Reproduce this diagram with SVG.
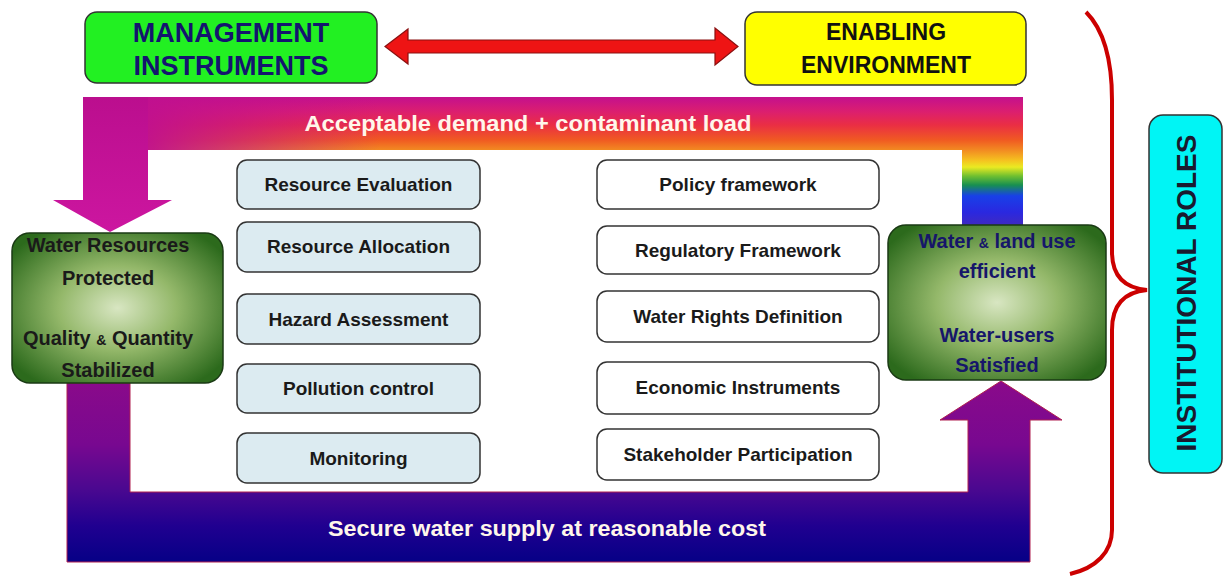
<svg xmlns="http://www.w3.org/2000/svg" width="1224" height="576" viewBox="0 0 1224 576">
  <defs>
    <style>
      .bx { stroke:#333; stroke-width:1.5; }
      .lb { fill:#dcebf1; }
      .rb { fill:#ffffff; }
      .t { font-family:"Liberation Sans", Arial, sans-serif; font-weight:bold; text-anchor:middle; }
      .bt { font-size:19px; fill:#1a1a1a; }
      .gt { font-size:20px; }
      .band { font-size:22px; fill:#fff6ea; }
    </style>
    <linearGradient id="topGrad" gradientUnits="userSpaceOnUse" x1="0" y1="97" x2="0" y2="232">
      <stop offset="0" stop-color="#c4108e"/>
      <stop offset="0.111" stop-color="#dc1f6e"/>
      <stop offset="0.207" stop-color="#ea2e44"/>
      <stop offset="0.319" stop-color="#f05a22"/>
      <stop offset="0.393" stop-color="#f28a22"/>
      <stop offset="0.467" stop-color="#f5c020"/>
      <stop offset="0.519" stop-color="#eaea22"/>
      <stop offset="0.585" stop-color="#70c030"/>
      <stop offset="0.652" stop-color="#189050"/>
      <stop offset="0.733" stop-color="#1840e8"/>
      <stop offset="0.852" stop-color="#2a28e0"/>
      <stop offset="1" stop-color="#4a2ab0"/>
    </linearGradient>
    <linearGradient id="leftFade" gradientUnits="userSpaceOnUse" x1="148" y1="0" x2="380" y2="0">
      <stop offset="0" stop-color="#c0108f" stop-opacity="0.95"/>
      <stop offset="1" stop-color="#c0108f" stop-opacity="0"/>
    </linearGradient>
    <linearGradient id="magGrad" gradientUnits="userSpaceOnUse" x1="0" y1="97" x2="0" y2="232">
      <stop offset="0" stop-color="#bb0e8e"/>
      <stop offset="1" stop-color="#cc16a0"/>
    </linearGradient>
    <linearGradient id="botGrad" gradientUnits="userSpaceOnUse" x1="0" y1="381" x2="0" y2="562">
      <stop offset="0" stop-color="#8a0a8a"/>
      <stop offset="0.35" stop-color="#780890"/>
      <stop offset="0.6" stop-color="#4a0890"/>
      <stop offset="0.8" stop-color="#200090"/>
      <stop offset="1" stop-color="#060086"/>
    </linearGradient>
    <radialGradient id="greenGrad" cx="0.5" cy="0.5" r="0.62">
      <stop offset="0" stop-color="#d8e6c2"/>
      <stop offset="0.45" stop-color="#94b86a"/>
      <stop offset="1" stop-color="#2c6a1c"/>
    </radialGradient>
  </defs>

  <g id="connectors">
    <!-- top band: acceptable demand -->
    <path d="M83,97 L1023,97 L1023,225 L962,225 L962,150 L148,150 L148,200 L83,200 Z" fill="url(#topGrad)"/>
    <rect x="148" y="97" width="232" height="53" fill="url(#leftFade)"/>
    <path d="M83,97 L148,97 L148,200 L172,200 L110,232 L53,200 L83,200 Z" fill="url(#magGrad)"/>
    <text class="t band" x="528" y="131" textLength="447" lengthAdjust="spacingAndGlyphs">Acceptable demand + contaminant load</text>

    <!-- bottom band: secure water supply -->
    <path d="M67,383 L130,383 L130,492 L968,492 L968,420 L940,420 L1001,381 L1062,420 L1030,420 L1030,562 L67,562 Z" fill="url(#botGrad)" stroke="#b02050" stroke-width="1"/>
    <text class="t band" x="547" y="536" textLength="438" lengthAdjust="spacingAndGlyphs">Secure water supply at reasonable cost</text>

    <!-- double arrow -->
    <path d="M385,46.5 L408,29 L408,40 L715,40 L715,28 L738,46.5 L715,65 L715,53 L408,53 L408,64 Z" fill="#ee1414" stroke="#8a1010" stroke-width="1.2"/>

    <!-- curly brace -->
    <path d="M1086,12 C1104,30 1112,60 1112,100 L1112,252 C1112,276 1124,288 1147,290 C1124,292 1112,305 1112,330 L1112,530 C1112,552 1096,568 1070,574" fill="none" stroke="#cc0000" stroke-width="4"/>
  </g>

  <g id="management">
    <rect x="85" y="12" width="292" height="71" rx="12" fill="#22f022" class="bx"/>
    <text class="t" x="231" y="42" font-size="27" fill="#14146e">MANAGEMENT</text>
    <text class="t" x="231" y="75" font-size="27" fill="#14146e">INSTRUMENTS</text>
  </g>

  <g id="enabling">
    <rect x="745" y="12" width="281" height="73" rx="12" fill="#ffff00" class="bx"/>
    <text class="t" x="886" y="40" font-size="23" fill="#111">ENABLING</text>
    <text class="t" x="886" y="73" font-size="23" fill="#111">ENVIRONMENT</text>
  </g>

  <g id="water-resources">
    <rect x="12" y="233" width="211" height="150" rx="18" fill="url(#greenGrad)" stroke="#1a3a14" stroke-width="1.5"/>
    <text class="t gt" x="108" y="252" fill="#1a1a1a">Water Resources</text>
    <text class="t gt" x="108" y="285" fill="#1a1a1a">Protected</text>
    <text class="t gt" x="108" y="345" fill="#1a1a1a">Quality <tspan font-size="14">&amp;</tspan> Quantity</text>
    <text class="t gt" x="108" y="377" fill="#1a1a1a">Stabilized</text>
  </g>

  <g id="water-users">
    <rect x="888" y="225" width="218" height="155" rx="18" fill="url(#greenGrad)" stroke="#1a3a14" stroke-width="1.5"/>
    <text class="t gt" x="997" y="248" fill="#16166a">Water <tspan font-size="14">&amp;</tspan> land use</text>
    <text class="t gt" x="997" y="278" fill="#16166a">efficient</text>
    <text class="t gt" x="997" y="342" fill="#16166a">Water-users</text>
    <text class="t gt" x="997" y="372" fill="#16166a">Satisfied</text>
  </g>

  <g id="resource-evaluation"><rect x="237" y="160" width="243" height="49" rx="10" class="bx lb"/><text class="t bt" x="358.5" y="191">Resource Evaluation</text></g>
  <g id="resource-allocation"><rect x="237" y="222" width="243" height="50" rx="10" class="bx lb"/><text class="t bt" x="358.5" y="253">Resource Allocation</text></g>
  <g id="hazard-assessment"><rect x="237" y="294" width="243" height="50" rx="10" class="bx lb"/><text class="t bt" x="358.5" y="326">Hazard  Assessment</text></g>
  <g id="pollution-control"><rect x="237" y="364" width="243" height="49" rx="10" class="bx lb"/><text class="t bt" x="358.5" y="395">Pollution control</text></g>
  <g id="monitoring"><rect x="237" y="433" width="243" height="50" rx="10" class="bx lb"/><text class="t bt" x="358.5" y="465">Monitoring</text></g>

  <g id="policy-framework"><rect x="597" y="160" width="282" height="49" rx="10" class="bx rb"/><text class="t bt" x="738" y="191">Policy framework</text></g>
  <g id="regulatory-framework"><rect x="597" y="226" width="282" height="48" rx="10" class="bx rb"/><text class="t bt" x="738" y="257">Regulatory Framework</text></g>
  <g id="water-rights"><rect x="597" y="291" width="282" height="51" rx="10" class="bx rb"/><text class="t bt" x="738" y="323">Water Rights Definition</text></g>
  <g id="economic-instruments"><rect x="597" y="362" width="282" height="52" rx="10" class="bx rb"/><text class="t bt" x="738" y="394">Economic Instruments</text></g>
  <g id="stakeholder-participation"><rect x="597" y="429" width="282" height="51" rx="10" class="bx rb"/><text class="t bt" x="738" y="461">Stakeholder Participation</text></g>

  <g id="institutional-roles">
    <rect x="1149" y="115" width="73" height="358" rx="14" fill="#00f5f5" class="bx"/>
    <text class="t" transform="translate(1196,293) rotate(-90)" font-size="28" fill="#1a1a2e">INSTITUTIONAL ROLES</text>
  </g>
</svg>
